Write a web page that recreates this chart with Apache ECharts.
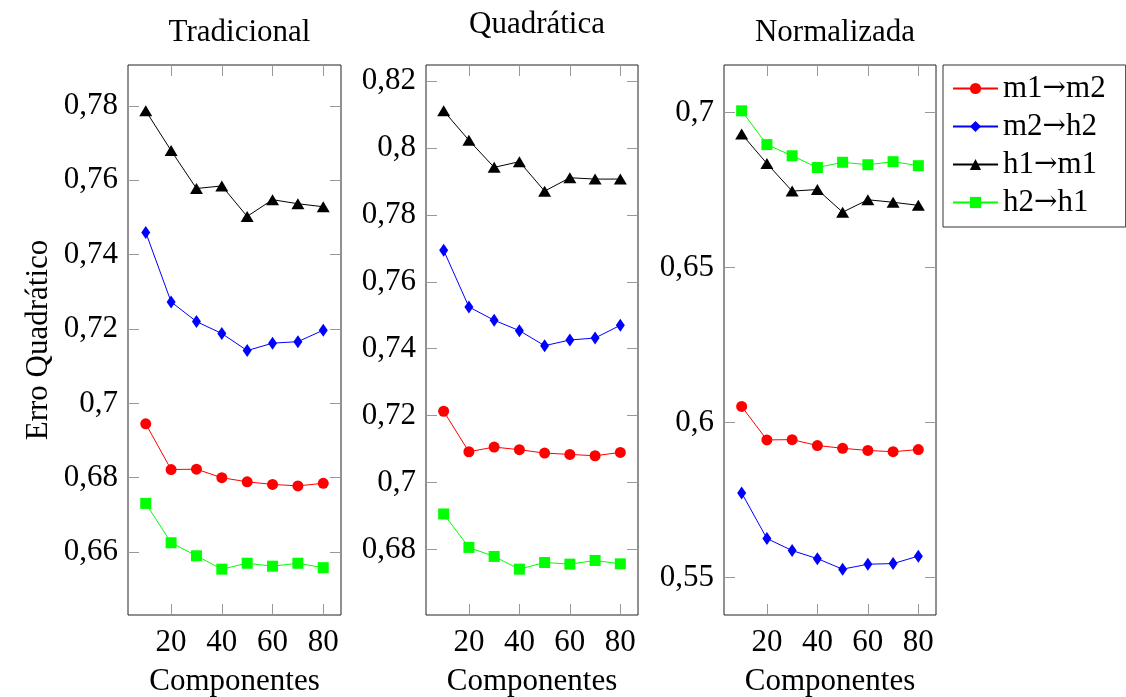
<!DOCTYPE html>
<html>
<head>
<meta charset="utf-8">
<script src="https://cdn.jsdelivr.net/npm/echarts@6/dist/echarts.min.js"></script>
<style>
html,body{margin:0;padding:0;background:#fff;}
#chart{width:1126px;height:697px;}
</style>
</head>
<body>
<div id="chart"></div>
<script>
// ---------- data ----------
const components = [10, 20, 30, 40, 50, 60, 70, 80];
const xTicks = [20, 40, 60, 80];
const seriesNames = ['m1→m2', 'm2→h2', 'h1→m1', 'h2→h1'];
const panelTitles = ['Tradicional', 'Quadrática', 'Normalizada'];
const xAxisTitle = 'Componentes';
const yAxisTitle = 'Erro Quadrático';

const tradicional_m1m2 = [0.6945, 0.6822, 0.6823, 0.6800, 0.6789, 0.6782, 0.6778, 0.6785];
const tradicional_m2h2 = [0.7460, 0.7273, 0.7220, 0.7188, 0.7142, 0.7162, 0.7166, 0.7197];
const tradicional_h1m1 = [0.7787, 0.7680, 0.7578, 0.7585, 0.7503, 0.7548, 0.7537, 0.7529];
const tradicional_h2h1 = [0.6731, 0.6625, 0.6590, 0.6554, 0.6570, 0.6562, 0.6570, 0.6558];
const tradicional_yTicks = [0.66, 0.68, 0.70, 0.72, 0.74, 0.76, 0.78];

const quadratica_m1m2 = [0.7213, 0.7092, 0.7106, 0.7098, 0.7088, 0.7084, 0.7080, 0.7090];
const quadratica_m2h2 = [0.7694, 0.7525, 0.7485, 0.7454, 0.7409, 0.7426, 0.7432, 0.7470];
const quadratica_h1m1 = [0.8111, 0.8023, 0.7942, 0.7959, 0.7871, 0.7911, 0.7907, 0.7907];
const quadratica_h2h1 = [0.6906, 0.6806, 0.6779, 0.6741, 0.6761, 0.6756, 0.6767, 0.6757];
const quadratica_yTicks = [0.68, 0.70, 0.72, 0.74, 0.76, 0.78, 0.80, 0.82];

const normalizada_m1m2 = [0.6052, 0.5944, 0.5945, 0.5926, 0.5917, 0.5910, 0.5906, 0.5913];
const normalizada_m2h2 = [0.5773, 0.5626, 0.5587, 0.5561, 0.5527, 0.5543, 0.5545, 0.5569];
const normalizada_h1m1 = [0.6931, 0.6836, 0.6747, 0.6752, 0.6679, 0.6719, 0.6711, 0.6701];
const normalizada_h2h1 = [0.7006, 0.6897, 0.6861, 0.6823, 0.6840, 0.6832, 0.6842, 0.6829];
const normalizada_yTicks = [0.55, 0.60, 0.65, 0.70];

// ---------- layout / style ----------
const FONT = '"Liberation Serif", "DejaVu Serif", serif';
const FS = 31;
const panels = [
  { title: panelTitles[0], data: [tradicional_m1m2, tradicional_m2h2, tradicional_h1m1, tradicional_h2h1], yTicks: tradicional_yTicks, left: 128, width: 213, titleTop: 12 },
  { title: panelTitles[1], data: [quadratica_m1m2, quadratica_m2h2, quadratica_h1m1, quadratica_h2h1], yTicks: quadratica_yTicks, left: 426, width: 212, titleTop: 4 },
  { title: panelTitles[2], data: [normalizada_m1m2, normalizada_m2h2, normalizada_h1m1, normalizada_h2h1], yTicks: normalizada_yTicks, left: 724, width: 212, titleTop: 12 }
];
const GRID_TOP = 65, GRID_H = 550;
const styles = [
  { color: '#ff0000', symbol: 'circle', size: 11 },
  { color: '#0000ff', symbol: 'diamond', size: [9, 13] },
  { color: '#000000', symbol: 'triangle', size: [13, 11] },
  { color: '#00ff00', symbol: 'rect', size: 11 }
];

function fmt(v) { return String(+v.toFixed(3)).replace('.', ','); }

const grids = [], xAxes = [], yAxes = [], series = [], titles = [];
const xSpan = components[components.length - 1] - components[0];
const xMin = components[0] - 0.1 * xSpan, xMax = components[components.length - 1] + 0.1 * xSpan;

panels.forEach((p, i) => {
  grids.push({ left: p.left, top: GRID_TOP, width: p.width, height: GRID_H, show: true,
    borderColor: '#222', borderWidth: 1, backgroundColor: 'transparent',
    containLabel: false, outerBoundsMode: 'none' });
  const all = [].concat(...p.data);
  const lo = Math.min(...all), hi = Math.max(...all), span = hi - lo;
  const yMin = lo - 0.1 * span, yMax = hi + 0.1 * span;
  const tickStyle = { show: true, inside: true, length: 11, lineStyle: { color: '#999', width: 1 } };
  xAxes.push({ type: 'value', gridIndex: i, position: 'bottom', min: xMin, max: xMax,
    axisLine: { show: false }, splitLine: { show: false },
    axisTick: Object.assign({ customValues: xTicks }, tickStyle),
    axisLabel: { customValues: xTicks, color: '#000', fontFamily: FONT, fontSize: FS, margin: 12, formatter: v => String(v) },
    name: xAxisTitle, nameLocation: 'middle', nameGap: 51, nameTextStyle: { color: '#000', fontFamily: FONT, fontSize: FS } });
  xAxes.push({ type: 'value', gridIndex: i, position: 'top', min: xMin, max: xMax,
    axisLine: { show: false }, splitLine: { show: false },
    axisTick: Object.assign({ customValues: xTicks }, tickStyle),
    axisLabel: { show: false } });
  const yAx = { type: 'value', gridIndex: i, position: 'left', min: yMin, max: yMax,
    axisLine: { show: false }, splitLine: { show: false },
    axisTick: Object.assign({ customValues: p.yTicks }, tickStyle),
    axisLabel: { customValues: p.yTicks, color: '#000', fontFamily: FONT, fontSize: FS, margin: 10, formatter: fmt } };
  if (i === 0) {
    yAx.name = yAxisTitle; yAx.nameLocation = 'middle'; yAx.nameGap = 74;
    yAx.nameTextStyle = { color: '#000', fontFamily: FONT, fontSize: FS };
  }
  yAxes.push(yAx);
  yAxes.push({ type: 'value', gridIndex: i, position: 'right', min: yMin, max: yMax,
    axisLine: { show: false }, splitLine: { show: false },
    axisTick: Object.assign({ customValues: p.yTicks }, tickStyle),
    axisLabel: { show: false } });

  titles.push({ text: p.title, left: p.left + p.width / 2, top: p.titleTop, textAlign: 'center',
    textStyle: { fontFamily: FONT, fontSize: FS, fontWeight: 'normal', color: '#000' } });

  p.data.forEach((vals, k) => {
    const s = styles[k];
    series.push({
      type: 'line', name: seriesNames[k], xAxisIndex: 2 * i, yAxisIndex: 2 * i,
      data: components.map((c, j) => [c, vals[j]]),
      symbol: s.symbol, symbolSize: s.size, showAllSymbol: true,
      itemStyle: { color: s.color }, lineStyle: { color: s.color, width: 1 },
      animation: false, silent: true, z: 2 + k
    });
  });
});

const chart = echarts.init(document.getElementById('chart'), null, { renderer: 'canvas' });
chart.setOption({
  backgroundColor: '#fff',
  animation: false,
  title: titles,
  grid: grids,
  xAxis: xAxes,
  yAxis: yAxes,
  legend: {
    data: seriesNames, orient: 'vertical', left: 943, top: 65,
    backgroundColor: '#fff', borderColor: '#333', borderWidth: 1,
    padding: [8, 20, 9, 9], itemGap: 7, itemWidth: 45, itemHeight: 14,
    formatter: name => name.replace('→', '{a|→}'),
    textStyle: { fontFamily: FONT, fontSize: FS, color: '#000', lineHeight: 30,
      rich: { a: { fontFamily: '"DejaVu Serif", serif', fontSize: 28, color: '#000', lineHeight: 30 } } },
    selectedMode: false
  },
  series: series
});
</script>
</body>
</html>
